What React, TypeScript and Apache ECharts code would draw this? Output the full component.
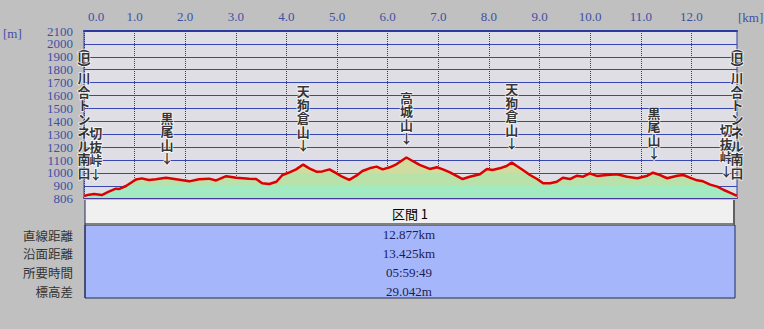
import React, { useEffect, useRef } from 'react';
import * as echarts from 'echarts';

// ---- data ----
const distancesKm = [
  0.0, 0.1, 0.2, 0.35, 0.49, 0.63, 0.7, 0.83, 0.95, 1.03, 1.14, 1.28, 1.42, 1.62, 1.82, 2.08, 2.27, 2.47, 2.61, 2.81,
  3.01, 3.26, 3.4, 3.52, 3.66, 3.8, 3.92, 4.06, 4.19, 4.33, 4.45, 4.59, 4.71, 4.85, 4.99, 5.1, 5.24, 5.38, 5.5, 5.64,
  5.78, 5.9, 6.04, 6.17, 6.37, 6.49, 6.63, 6.83, 6.97, 7.09, 7.23, 7.48, 7.62, 7.82, 7.96, 8.07, 8.21, 8.35, 8.45, 8.55,
  8.67, 8.81, 8.95, 9.07, 9.21, 9.34, 9.46, 9.6, 9.74, 9.86, 9.99, 10.13, 10.33, 10.53, 10.73, 10.93, 11.13, 11.24, 11.38, 11.52,
  11.72, 11.84, 11.98, 12.11, 12.23, 12.37, 12.51, 12.63, 12.77, 12.9,
];
const elevationsM = [
  822, 832, 837, 829, 855, 878, 876, 899, 930, 950, 958, 945, 951, 963, 951, 935, 951, 956, 942, 975,
  963, 955, 953, 920, 914, 932, 984, 1005, 1028, 1065, 1036, 1010, 1012, 1028, 997, 971, 946, 979, 1015, 1036,
  1049, 1028, 1044, 1067, 1120, 1093, 1062, 1031, 1044, 1028, 1005, 953, 971, 990, 1031, 1023, 1036, 1054, 1080, 1054,
  1023, 984, 953, 920, 920, 932, 963, 953, 979, 971, 997, 977, 984, 990, 971, 959, 979, 1002, 984, 959,
  979, 984, 962, 943, 935, 910, 894, 870, 845, 822,
];
const xTickValues = [0, 1, 2, 3, 4, 5, 6, 7, 8, 9, 10, 11, 12];
const yTickValues = [900, 1000, 1100, 1200, 1300, 1400, 1500, 1600, 1700, 1800, 1900, 2000, 2100];
const yBaseTick = [806];
const xMin = 0;
const xMax = 12.9;
const yMin = 806;
const yMax = 2100;

const peakNames = ['黒尾山', '天狗倉山', '高城山', '天狗倉山', '黒尾山'];
const peakKm = [1.64, 4.33, 6.37, 8.45, 11.26];
const peakElev = [963, 1065, 1120, 1080, 1002];

const passName = '切抜峠';
const passKm = [0.23, 12.69];
const passElev = [837, 862];

const tunnelName = '(旧)川合トンネル南口';
const tunnelKm = [0, 12.9];
const tunnelElev = [822, 822];

const sectionTitle = '区間 1';
const statLabels = ['直線距離', '沿面距離', '所要時間', '標高差'];
const statValues = ['12.877km', '13.425km', '05:59:49', '29.042m'];

const bandPieces = [
  { lt: 900, color: '#a2eac2' },
  { gte: 900, lt: 1000, color: '#b8e2aa' },
  { gte: 1000, color: '#d0dc9e' },
];

// ---- helpers ----
const verticalArrow = (name: string) => name.split('').join('\n') + '\n↓';
const verticalTunnel = (name: string) =>
  name
    .split('')
    .map((c) => (c === '(' ? '{p|︵}' : c === ')' ? '{p|︶}' : c))
    .join('\n');

const JP = '"Noto Sans CJK JP", sans-serif';
const SERIF = '"Liberation Serif", serif';
const AXIS_BLUE = '#3f4fa6';

export default function App() {
  const ref = useRef<HTMLDivElement>(null);

  useEffect(() => {
    if (!ref.current) return;
    const chart = echarts.init(ref.current, undefined, { renderer: 'svg' });
    const profile = distancesKm.map((d, i) => [d, elevationsM[i]]);

    const labelBase = {
      show: true,
      position: 'top',
      color: '#000',
      fontFamily: JP,
      fontSize: 13,
      fontWeight: 'bold',
      lineHeight: 13.5,
      align: 'center',
      textBorderColor: '#ffffff',
      textBorderWidth: 1.5,
    };

    const yLabelStyle = {
      showMinLabel: true,
      showMaxLabel: true,
      hideOverlap: false,
      color: AXIS_BLUE,
      fontFamily: SERIF,
      fontSize: 13,
      margin: 11,
      formatter: (v: number) => String(v),
    };

    const tableLeft = 85;
    const tableW = 650;

    const graphics: any[] = [
      { type: 'text', left: 3, top: 27, style: { text: '[m]', font: `13px ${SERIF}`, fill: AXIS_BLUE } },
      { type: 'text', left: 738, top: 11, style: { text: '[km]', font: `13px ${SERIF}`, fill: AXIS_BLUE } },
      {
        type: 'rect',
        shape: { x: tableLeft, y: 200, width: tableW, height: 25 },
        style: { fill: '#f0f0f0' },
        z: 10,
      },
      { type: 'line', shape: { x1: tableLeft, y1: 224, x2: tableLeft + tableW, y2: 224 }, style: { stroke: '#808080', lineWidth: 2 }, z: 11 },
      { type: 'line', shape: { x1: tableLeft + tableW - 1, y1: 200, x2: tableLeft + tableW - 1, y2: 225 }, style: { stroke: '#606060', lineWidth: 2 }, z: 11 },
      { type: 'line', shape: { x1: tableLeft, y1: 200, x2: tableLeft, y2: 298 }, style: { stroke: '#202a58', lineWidth: 1 }, z: 11 },
      {
        type: 'text',
        x: 410,
        y: 213,
        style: { text: sectionTitle, font: `13px ${JP}`, fill: '#000', align: 'center', verticalAlign: 'middle' },
        z: 12,
      },
      {
        type: 'rect',
        shape: { x: tableLeft, y: 225, width: tableW, height: 73 },
        style: { fill: '#a5b7fa', stroke: '#1e2a5a', lineWidth: 1 },
        z: 10,
      },
    ];
    statLabels.forEach((t, i) => {
      graphics.push({
        type: 'text',
        x: 73,
        y: 235 + i * 18.7,
        style: { text: t, font: `12.5px ${JP}`, fill: '#333', align: 'right', verticalAlign: 'middle' },
        z: 12,
      });
    });
    statValues.forEach((t, i) => {
      graphics.push({
        type: 'text',
        x: 409,
        y: 234 + i * 19,
        style: { text: t, font: `13px ${SERIF}`, fill: '#1c1c55', align: 'center', verticalAlign: 'middle' },
        z: 12,
      });
    });

    chart.setOption({
      animation: false,
      backgroundColor: '#c0c0c0',
      grid: {
        left: 84,
        right: 27,
        top: 31,
        bottom: 131,
        show: true,
        backgroundColor: '#dedee4',
        borderColor: '#3040a0',
        borderWidth: 1,
      },
      visualMap: {
        show: false,
        type: 'piecewise',
        seriesIndex: 0,
        dimension: 1,
        pieces: bandPieces,
      },
      xAxis: [
        {
          type: 'value',
          position: 'top',
          min: xMin,
          max: xMax,
          axisLine: { show: true, lineStyle: { color: '#2a3aa0', width: 2 } },
          axisTick: { show: false, customValues: xTickValues },
          axisLabel: {
            customValues: xTickValues,
            color: AXIS_BLUE,
            fontFamily: SERIF,
            fontSize: 13,
            margin: 8,
            formatter: (v: number) => (v === 0 ? '{first|0.0}' : v.toFixed(1)),
            rich: { first: { padding: [0, 0, 0, 24], color: AXIS_BLUE, fontFamily: SERIF, fontSize: 13 } },
          },
          splitLine: { show: true, lineStyle: { color: '#2a3aa0', type: 'dotted', width: 1 } },
        },
        {
          type: 'value',
          position: 'bottom',
          min: xMin,
          max: xMax,
          axisLine: { show: true, lineStyle: { color: '#483c98', width: 2 } },
          axisTick: { show: false },
          axisLabel: { show: false },
          splitLine: { show: false },
        },
      ],
      yAxis: [
        {
          type: 'value',
          min: yMin,
          max: yMax,
          axisLine: { show: false },
          axisTick: { show: false, customValues: yTickValues },
          axisLabel: { ...yLabelStyle, customValues: yTickValues },
          splitLine: { show: true, lineStyle: { color: '#3848b0', width: 1 } },
        },
        {
          type: 'value',
          position: 'left',
          offset: 0,
          min: yMin,
          max: yMax,
          axisLine: { show: false },
          axisTick: { show: false, customValues: yBaseTick },
          axisLabel: { ...yLabelStyle, customValues: yBaseTick },
          splitLine: { show: false },
        },
      ],
      series: [
        {
          type: 'line',
          data: profile,
          symbol: 'none',
          lineStyle: { width: 0 },
          areaStyle: { opacity: 1 },
          z: 2,
        },
        {
          type: 'line',
          data: profile,
          symbol: 'none',
          lineStyle: { color: '#dc0000', width: 2.5 },
          z: 3,
        },
        {
          type: 'scatter',
          symbolSize: 0,
          clip: false,
          z: 5,
          data: peakKm.map((k, i) => ({ value: [k, peakElev[i]], name: peakNames[i] })),
          label: { ...labelBase, distance: 13, formatter: (p: any) => verticalArrow(p.name) },
        },
        {
          type: 'scatter',
          symbolSize: 0,
          clip: false,
          z: 5,
          data: passKm.map((k, i) => ({ value: [k, passElev[i]], name: passName })),
          label: { ...labelBase, distance: 14, formatter: (p: any) => verticalArrow(p.name) },
        },
        {
          type: 'scatter',
          symbolSize: 0,
          clip: false,
          z: 5,
          data: tunnelKm.map((k, i) => ({ value: [k, tunnelElev[i]], name: tunnelName })),
          label: {
            ...labelBase,
            distance: 17,
            formatter: (p: any) => verticalTunnel(p.name),
            rich: {
              p: { lineHeight: 7, fontSize: 13, fontFamily: JP, fontWeight: 'bold', color: '#000', textBorderColor: '#fff', textBorderWidth: 1.5 },
            },
          },
        },
      ],
      graphic: graphics,
    });

    return () => chart.dispose();
  }, []);

  return (
    <div
      ref={ref}
      style={{ position: 'fixed', left: 0, top: 0, width: 764, height: 329 }}
    />
  );
}
